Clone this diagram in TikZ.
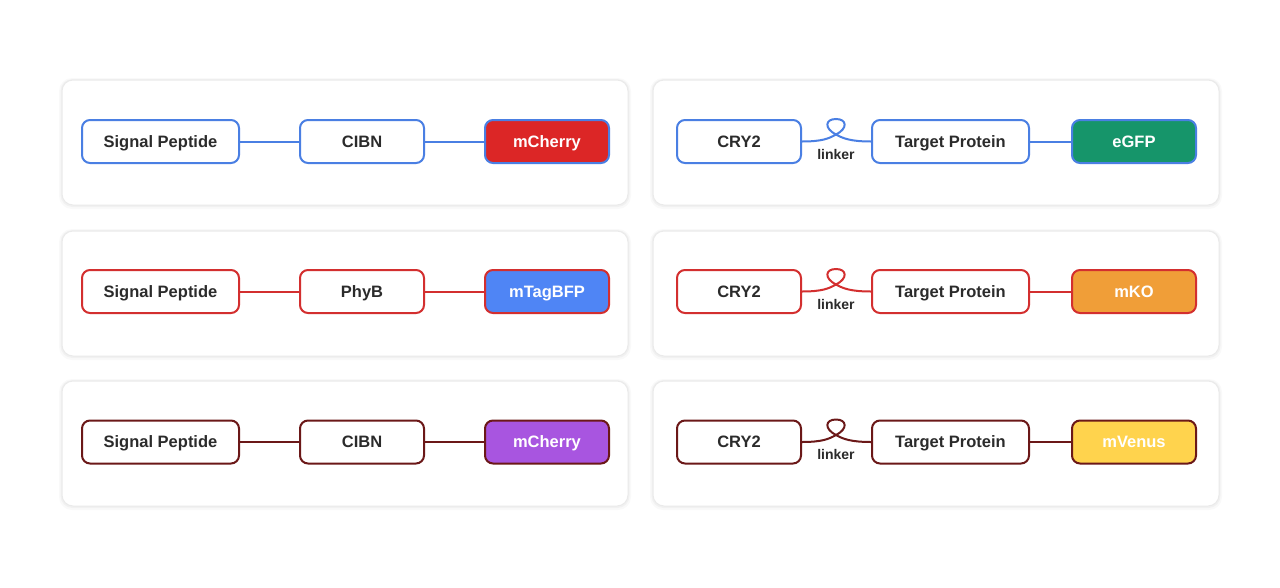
\documentclass[tikz,border=0pt]{standalone}
\usepackage{fontspec}
\setmainfont{Liberation Sans}
\definecolor{rowblue}{HTML}{4A7FE3}
\definecolor{rowred}{HTML}{D32F2F}
\definecolor{rowdark}{HTML}{6B1818}
\definecolor{fcherry}{HTML}{DC2626}
\definecolor{fgfp}{HTML}{16956A}
\definecolor{fbfp}{HTML}{4F85F5}
\definecolor{fko}{HTML}{F09E38}
\definecolor{fpurple}{HTML}{A855E0}
\definecolor{fvenus}{HTML}{FFD34D}
\definecolor{txt}{HTML}{2B2B2B}
\definecolor{panelline}{HTML}{EAEAEA}
\begin{document}
\begin{tikzpicture}[x=1pt,y=-1pt,
  panel/.style={draw=panelline,line width=1pt,fill=white,rounded corners=11pt},
  part/.style={draw=#1,line width=2pt,fill=white,rounded corners=8pt,minimum height=43pt,text=txt,font=\fontsize{16.5}{18}\selectfont\bfseries,inner sep=0pt,text height=11.9pt,text depth=0pt},
  fp/.style={draw=#1,line width=2pt,rounded corners=8pt,minimum height=43pt,minimum width=124pt,text=white,font=\fontsize{16.5}{18}\selectfont\bfseries,inner sep=0pt,text height=11.9pt,text depth=0pt},
  link/.style={draw=#1,line width=2pt},
  lab/.style={text=txt,font=\fontsize{14}{16}\selectfont\bfseries,inner sep=0pt,text height=10pt,text depth=0pt}
]
\useasboundingbox (0,0) rectangle (1280,587);
\fill[white] (0,0) rectangle (1280,587);
% panels with soft shadow
\foreach \py in {80,231,381}{
  \foreach \px in {62,653}{
    \fill[black,opacity=0.025,rounded corners=13pt] (\px-3,\py-2) rectangle (\px+569,\py+129);
    \fill[black,opacity=0.03,rounded corners=12pt] (\px-1.5,\py-1) rectangle (\px+567.5,\py+127);
    \path[panel] (\px,\py) rectangle (\px+566,\py+125);
  }
}
% ---- left column
\newcommand{\leftrow}[5]{%
  \node[part=#2,minimum width=157pt] (sp#1) at (160.5,#3) {Signal Peptide};
  \node[part=#2,minimum width=124pt] (mid#1) at (362,#3) {#4};
  \node[fp=#2,fill=#5] (fpl#1) at (547,#3) {\csname fpname#1\endcsname};
  \draw[link=#2] (sp#1) -- (mid#1);
  \draw[link=#2] (mid#1) -- (fpl#1);
}
\newcommand{\fpnamea}{mCherry}
\newcommand{\fpnameb}{mTagBFP}
\newcommand{\fpnamec}{mCherry}
\leftrow{a}{rowblue}{141.5}{CIBN}{fcherry}
\leftrow{b}{rowred}{291.5}{PhyB}{fbfp}
\leftrow{c}{rowdark}{442}{CIBN}{fpurple}
% ---- right column
\newcommand{\rightrow}[4]{%
  \node[part=#2,minimum width=124pt] (cry#1) at (739,#3) {CRY2};
  \node[part=#2,minimum width=157pt] (tp#1) at (950.5,#3) {Target Protein};
  \node[fp=#2,fill=#4] (fpr#1) at (1134,#3) {\csname fprname#1\endcsname};
  \coordinate (x#1) at (836,#3-7);
  \draw[link=#2] (cry#1.east) .. controls +(20,0) and +(-7,4) .. (x#1)
     .. controls +(12,-6) and +(11,0) .. (836,#3-22.5)
     .. controls +(-11,0) and +(-12,-6) .. (x#1)
     .. controls +(7,4) and +(-20,0) .. (tp#1.west);
  \node[lab] (lk#1) at (836,#3+12.5) {linker};
  \draw[link=#2] (tp#1) -- (fpr#1);
}
\newcommand{\fprnamea}{eGFP}
\newcommand{\fprnameb}{mKO}
\newcommand{\fprnamec}{mVenus}
\rightrow{a}{rowblue}{141.5}{fgfp}
\rightrow{b}{rowred}{291.5}{fko}
\rightrow{c}{rowdark}{442}{fvenus}
\end{tikzpicture}
\end{document}
